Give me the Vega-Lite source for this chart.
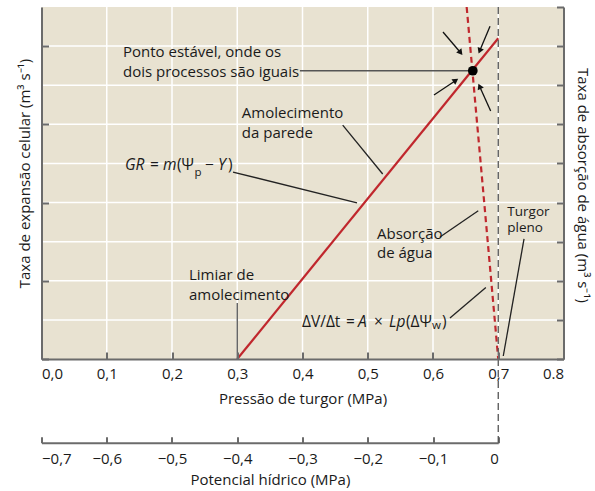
{
  "$schema": "https://vega.github.io/schema/vega-lite/v6.json",
  "width": 522,
  "height": 352,
  "autosize": "none",
  "padding": {"left": 41.5, "top": 7, "right": 31.5, "bottom": 132},
  "background": "white",
  "config": {
    "font": "Open Sans",
    "view": {"stroke": null},
    "axis": {
      "domainColor": "#6b6b6b", "domainWidth": 2, "tickColor": "#6b6b6b", "tickWidth": 2,
      "labelFont": "Open Sans", "labelFontSize": 15, "labelColor": "#1a1a1a",
      "titleFont": "Open Sans", "titleFontSize": 15, "titleFontWeight": "normal", "titleColor": "#1a1a1a"
    }
  },
  "datasets": {
    "panel": [{"x": 0, "x2": 0.8, "y": 0, "y2": 9}],
    "gridx": [{"x": 0.1, "y": 0, "y2": 9}, {"x": 0.2, "y": 0, "y2": 9}, {"x": 0.3, "y": 0, "y2": 9}, {"x": 0.4, "y": 0, "y2": 9}, {"x": 0.5, "y": 0, "y2": 9}, {"x": 0.6, "y": 0, "y2": 9}, {"x": 0.7, "y": 0, "y2": 9}],
    "gridy": [{"y": 1, "x": 0, "x2": 0.8}, {"y": 2, "x": 0, "x2": 0.8}, {"y": 3, "x": 0, "x2": 0.8}, {"y": 4, "x": 0, "x2": 0.8}, {"y": 5, "x": 0, "x2": 0.8}, {"y": 6, "x": 0, "x2": 0.8}, {"y": 7, "x": 0, "x2": 0.8}, {"y": 8, "x": 0, "x2": 0.8}],
    "wall": [{"x": 0.3, "y": 0}, {"x": 0.7, "y": 8.2}],
    "uptake": [{"x": 0.6516, "y": 9}, {"x": 0.7, "y": 0}],
    "full": [{"x": 0.7, "y": 9, "y2": -2.14}],
    "dot": [{"x": 0.661, "y": 7.37}],
    "leaders": [
      {"x": 0.396, "y": 7.37, "x2": 0.655, "y2": 7.37, "c": "g"},
      {"x": 0.4616, "y": 5.98, "x2": 0.5229, "y2": 4.73, "c": "k"},
      {"x": 0.2935, "y": 4.78, "x2": 0.4836, "y2": 3.99, "c": "k"},
      {"x": 0.6107, "y": 3.12, "x2": 0.6694, "y2": 3.79, "c": "k"},
      {"x": 0.7395, "y": 3.07, "x2": 0.7077, "y2": 0.077, "c": "k"},
      {"x": 0.3, "y": 1.43, "x2": 0.3, "y2": 0, "c": "g"},
      {"x": 0.626, "y": 1.05, "x2": 0.681, "y2": 1.83, "c": "k"}
    ],
    "arrows": [
      {"id": 1, "x": 0.6153, "y": 8.36, "x2": 0.6414, "y2": 7.85},
      {"id": 2, "x": 0.6874, "y": 8.51, "x2": 0.6721, "y2": 7.90},
      {"id": 3, "x": 0.6015, "y": 6.75, "x2": 0.6337, "y2": 7.11},
      {"id": 4, "x": 0.6884, "y": 6.34, "x2": 0.6720, "y2": 6.95}
    ],
    "labels": [
      {"x": 0.1249, "y": 7.85, "t": "Ponto estável, onde os"},
      {"x": 0.1249, "y": 7.34, "t": "dois processos são iguais"},
      {"x": 0.307, "y": 6.28, "t": "Amolecimento"},
      {"x": 0.307, "y": 5.78, "t": "da parede"},
      {"x": 0.5142, "y": 3.2, "t": "Absorção"},
      {"x": 0.5142, "y": 2.7, "t": "de água"},
      {"x": 0.226, "y": 2.15, "t": "Limiar de"},
      {"x": 0.226, "y": 1.64, "t": "amolecimento"}
    ],
    "small": [
      {"x": 0.7139, "y": 3.77, "t": "Turgor"},
      {"x": 0.7139, "y": 3.35, "t": "pleno"}
    ],
    "formula": [
      {"x": 0.1663, "y": 4.96, "t": "="},
      {"x": 0.2077, "y": 4.96, "t": "(Ψ"},
      {"x": 0.2506, "y": 4.96, "t": "−"},
      {"x": 0.2858, "y": 4.96, "t": ")"},
      {"x": 0.3992, "y": 0.954, "t": "ΔV/Δt"},
      {"x": 0.4667, "y": 0.954, "t": "="},
      {"x": 0.5096, "y": 0.954, "t": "×"},
      {"x": 0.5586, "y": 0.954, "t": "(ΔΨ"},
      {"x": 0.6138, "y": 0.954, "t": ")"}
    ],
    "italics": [
      {"x": 0.128, "y": 4.96, "t": "GR"},
      {"x": 0.1862, "y": 4.96, "t": "m"},
      {"x": 0.2705, "y": 4.96, "t": "Y"},
      {"x": 0.4851, "y": 0.954, "t": "A"},
      {"x": 0.5325, "y": 0.954, "t": "Lp"}
    ],
    "subs": [
      {"x": 0.2345, "y": 4.75, "t": "p"},
      {"x": 0.5985, "y": 0.84, "t": "w"}
    ]
  },
  "layer": [
    {
      "layer": [
        {
          "data": {"name": "panel"},
          "mark": {"type": "rect", "color": "#e8e2d1", "opacity": 1},
          "encoding": {
            "x": {"field": "x", "type": "quantitative",
              "scale": {"domain": [0, 0.8], "nice": false, "zero": false},
              "axis": {"orient": "bottom", "title": "Pressão de turgor (MPa)", "values": [0, 0.1, 0.2, 0.3, 0.4, 0.5, 0.6, 0.7, 0.8],
                "labelExpr": "datum.value > 0.75 ? '0.8' : replace(format(datum.value, '.1f'), '.', ',')",
                "tickSize": -7, "labelPadding": 14, "labelBaseline": "top", "titlePadding": 10, "grid": false, "zindex": 1}},
            "x2": {"field": "x2"},
            "y": {"field": "y", "type": "quantitative",
              "scale": {"domain": [0, 9], "nice": false, "zero": false},
              "axis": {"orient": "left", "title": "Taxa de expansão celular   (m³ s⁻¹)", "values": [0, 1, 2, 3, 4, 5, 6, 7, 8, 9],
                "labels": false, "tickSize": -7, "titlePadding": 8, "titleY": 166, "grid": false, "zindex": 1}},
            "y2": {"field": "y2"}
          }
        },
        {
          "data": {"name": "gridx"},
          "mark": {"type": "rule", "color": "#ffffff", "strokeWidth": 1.5, "opacity": 1},
          "encoding": {"x": {"field": "x", "type": "quantitative"}, "y": {"field": "y", "type": "quantitative"}, "y2": {"field": "y2"}}
        },
        {
          "data": {"name": "gridy"},
          "mark": {"type": "rule", "color": "#ffffff", "strokeWidth": 1.5, "opacity": 1},
          "encoding": {"y": {"field": "y", "type": "quantitative"}, "x": {"field": "x", "type": "quantitative"}, "x2": {"field": "x2"}}
        },
        {
          "data": {"name": "wall"},
          "mark": {"type": "line", "color": "#c0272d", "strokeWidth": 2.2},
          "encoding": {"x": {"field": "x", "type": "quantitative"}, "y": {"field": "y", "type": "quantitative"}}
        },
        {
          "data": {"name": "uptake"},
          "mark": {"type": "line", "color": "#c0272d", "strokeWidth": 2.2, "strokeDash": [6, 4]},
          "encoding": {"x": {"field": "x", "type": "quantitative"}, "y": {"field": "y", "type": "quantitative"}}
        },
        {
          "data": {"name": "full"},
          "mark": {"type": "rule", "color": "#555555", "strokeWidth": 1.3, "strokeDash": [7, 4]},
          "encoding": {"x": {"field": "x", "type": "quantitative"}, "y": {"field": "y", "type": "quantitative"}, "y2": {"field": "y2"}}
        },
        {
          "data": {"name": "leaders"},
          "mark": {"type": "rule", "strokeWidth": 1.3},
          "encoding": {
            "x": {"field": "x", "type": "quantitative"}, "y": {"field": "y", "type": "quantitative"},
            "x2": {"field": "x2"}, "y2": {"field": "y2"},
            "color": {"field": "c", "type": "nominal", "scale": {"domain": ["g", "k"], "range": ["#555555", "#222222"]}, "legend": null}
          }
        },
        {
          "data": {"name": "arrows"},
          "mark": {"type": "rule", "strokeWidth": 1.3, "color": "#111111"},
          "encoding": {
            "x": {"field": "x", "type": "quantitative"}, "y": {"field": "y", "type": "quantitative"},
            "x2": {"field": "x2"}, "y2": {"field": "y2"}
          }
        },
        {
          "data": {"name": "arrows"},
          "transform": [{"filter": "datum.id == 1"}],
          "mark": {"type": "point", "shape": "triangle", "filled": true, "color": "#111111", "size": 45, "angle": 141.5, "opacity": 1},
          "encoding": {"x": {"field": "x2", "type": "quantitative"}, "y": {"field": "y2", "type": "quantitative"}}
        },
        {
          "data": {"name": "arrows"},
          "transform": [{"filter": "datum.id == 2"}],
          "mark": {"type": "point", "shape": "triangle", "filled": true, "color": "#111111", "size": 45, "angle": 202.6, "opacity": 1},
          "encoding": {"x": {"field": "x2", "type": "quantitative"}, "y": {"field": "y2", "type": "quantitative"}}
        },
        {
          "data": {"name": "arrows"},
          "transform": [{"filter": "datum.id == 3"}],
          "mark": {"type": "point", "shape": "triangle", "filled": true, "color": "#111111", "size": 45, "angle": 56.3, "opacity": 1},
          "encoding": {"x": {"field": "x2", "type": "quantitative"}, "y": {"field": "y2", "type": "quantitative"}}
        },
        {
          "data": {"name": "arrows"},
          "transform": [{"filter": "datum.id == 4"}],
          "mark": {"type": "point", "shape": "triangle", "filled": true, "color": "#111111", "size": 45, "angle": 336, "opacity": 1},
          "encoding": {"x": {"field": "x2", "type": "quantitative"}, "y": {"field": "y2", "type": "quantitative"}}
        },
        {
          "data": {"name": "dot"},
          "mark": {"type": "point", "shape": "circle", "filled": true, "color": "#000000", "size": 95, "opacity": 1},
          "encoding": {"x": {"field": "x", "type": "quantitative"}, "y": {"field": "y", "type": "quantitative"}}
        },
        {
          "data": {"name": "labels"},
          "mark": {"type": "text", "align": "left", "baseline": "middle", "fontSize": 15, "color": "#1a1a1a"},
          "encoding": {"x": {"field": "x", "type": "quantitative"}, "y": {"field": "y", "type": "quantitative"}, "text": {"field": "t"}}
        },
        {
          "data": {"name": "small"},
          "mark": {"type": "text", "align": "left", "baseline": "middle", "fontSize": 13.5, "color": "#1a1a1a"},
          "encoding": {"x": {"field": "x", "type": "quantitative"}, "y": {"field": "y", "type": "quantitative"}, "text": {"field": "t"}}
        },
        {
          "data": {"name": "formula"},
          "mark": {"type": "text", "align": "left", "baseline": "middle", "fontSize": 15.5, "color": "#1a1a1a"},
          "encoding": {"x": {"field": "x", "type": "quantitative"}, "y": {"field": "y", "type": "quantitative"}, "text": {"field": "t"}}
        },
        {
          "data": {"name": "italics"},
          "mark": {"type": "text", "align": "left", "baseline": "middle", "fontSize": 15.5, "fontStyle": "italic", "color": "#1a1a1a"},
          "encoding": {"x": {"field": "x", "type": "quantitative"}, "y": {"field": "y", "type": "quantitative"}, "text": {"field": "t"}}
        },
        {
          "data": {"name": "subs"},
          "mark": {"type": "text", "align": "left", "baseline": "middle", "fontSize": 11.5, "color": "#1a1a1a"},
          "encoding": {"x": {"field": "x", "type": "quantitative"}, "y": {"field": "y", "type": "quantitative"}, "text": {"field": "t"}}
        }
      ]
    },
    {
      "data": {"values": [{"p": 0, "y": 0}]},
      "mark": {"type": "point", "opacity": 0},
      "encoding": {
        "x": {"field": "p", "type": "quantitative",
          "scale": {"domain": [-0.7, 0], "range": [0, 456.75], "nice": false, "zero": false},
          "axis": {"orient": "bottom", "offset": 83.7, "title": "Potencial hídrico (MPa)",
            "values": [-0.7, -0.6, -0.5, -0.4, -0.3, -0.2, -0.1, 0],
            "labelExpr": "datum.value == 0 ? '0' : replace(format(datum.value, '.1f'), '.', ',')",
            "tickSize": -6, "labelPadding": 15, "labelBaseline": "top", "titlePadding": 6, "grid": false}},
        "y": {"field": "y", "type": "quantitative",
          "axis": {"orient": "right", "title": "Taxa de absorção de água   (m³ s⁻¹)", "titleAngle": 90, "titleY": 178,
            "values": [0, 1, 2, 3, 4, 5, 6, 7, 8, 9], "labels": false, "tickSize": -7, "titlePadding": 10, "grid": false, "zindex": 1}}
      }
    }
  ],
  "resolve": {"scale": {"x": "independent"}, "axis": {"x": "independent", "y": "independent"}}
}
